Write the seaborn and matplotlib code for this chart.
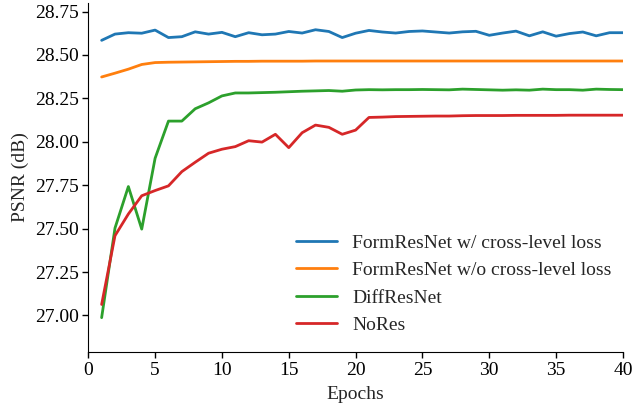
import numpy as np
import pandas as pd
import seaborn as sns
import matplotlib.pyplot as plt

# Dados
epochs = list(range(1, 41))

formres_cross = [28.584, 28.620, 28.628, 28.625, 28.643, 28.600, 28.605, 28.633, 28.620, 28.630,
                 28.605, 28.628, 28.616, 28.620, 28.635, 28.626, 28.645, 28.635, 28.600, 28.625,
                 28.641, 28.632, 28.626, 28.635, 28.638, 28.632, 28.626, 28.633, 28.636, 28.613,
                 28.626, 28.637, 28.610, 28.633, 28.608, 28.623, 28.632, 28.610, 28.628, 28.628]

formres_nocross = [28.373, 28.395, 28.418, 28.445, 28.456, 28.458, 28.459, 28.460, 28.461, 28.462,
                   28.463, 28.463, 28.464, 28.464, 28.464, 28.464, 28.465, 28.465, 28.465, 28.465,
                   28.465, 28.465, 28.465, 28.465, 28.465, 28.465, 28.465, 28.465, 28.465, 28.465,
                   28.465, 28.465, 28.465, 28.465, 28.465, 28.465, 28.465, 28.465, 28.465, 28.465]

diffres = [26.987, 27.503, 27.742, 27.497, 27.905, 28.119, 28.119, 28.190, 28.224, 28.264,
           28.281, 28.281, 28.283, 28.285, 28.288, 28.291, 28.293, 28.295, 28.291, 28.298,
           28.300, 28.299, 28.300, 28.300, 28.301, 28.300, 28.299, 28.303, 28.301, 28.299,
           28.297, 28.299, 28.297, 28.303, 28.300, 28.300, 28.297, 28.303, 28.301, 28.300]

nores = [27.063, 27.459, 27.584, 27.689, 27.719, 27.746, 27.828, 27.882, 27.934, 27.957,
         27.972, 28.006, 27.998, 28.043, 27.966, 28.052, 28.096, 28.083, 28.043, 28.067,
         28.140, 28.142, 28.145, 28.146, 28.147, 28.148, 28.148, 28.150, 28.151, 28.151,
         28.151, 28.152, 28.152, 28.152, 28.152, 28.153, 28.153, 28.153, 28.153, 28.153]

series_names = ['FormResNet w/ cross-level loss', 'FormResNet w/o cross-level loss',
                'DiffResNet', 'NoRes']

df = pd.DataFrame({
    'Epochs': epochs * 4,
    'PSNR': formres_cross + formres_nocross + diffres + nores,
    'Modelo': sum([[n] * len(epochs) for n in series_names], []),
})

sns.set_style('ticks')
plt.rcParams['font.family'] = ['Liberation Serif', 'DejaVu Serif']
plt.rcParams['font.size'] = 14

fig = plt.figure(figsize=(6.35, 4.04), dpi=100)
ax = fig.add_axes([0.139, 0.129, 0.842, 0.864])

sns.lineplot(data=df, x='Epochs', y='PSNR', hue='Modelo', palette='tab10',
             linewidth=2, ax=ax)

ax.set_xlim(0, 40)
ax.set_ylim(26.79, 28.80)
ax.set_xticks(range(0, 41, 5))
ax.set_yticks(np.arange(27.0, 28.76, 0.25))
ax.set_yticklabels([f'{v:.2f}' for v in np.arange(27.0, 28.76, 0.25)])
ax.set_xlabel('Epochs', fontsize=14, labelpad=5)
ax.set_ylabel('PSNR (dB)', fontsize=14, labelpad=4)
ax.tick_params(labelsize=14, length=4, width=1, pad=3, color='black', labelcolor='black')
for s in ['left', 'bottom']:
    ax.spines[s].set_color('black')
sns.despine(ax=ax)

ax.legend(title=None, frameon=False, loc='lower right', fontsize=14,
          bbox_to_anchor=(1.0, 0.018), handlelength=2.1, handletextpad=0.75,
          labelspacing=0.5, borderaxespad=0.2)

fig.savefig('out.png', dpi=100)
